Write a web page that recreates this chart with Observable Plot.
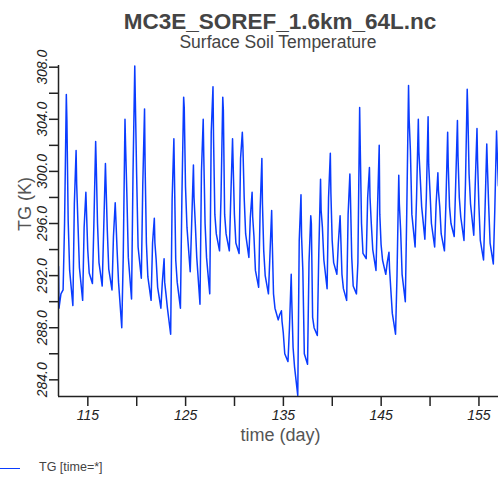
<!DOCTYPE html>
<html>
<head>
<meta charset="utf-8">
<script src="https://cdn.jsdelivr.net/npm/d3@7"></script>
<script src="https://cdn.jsdelivr.net/npm/@observablehq/plot@0.6"></script>
<style>
  body { margin: 0; background: #fff; font-family: "Liberation Sans", Arial, Helvetica, sans-serif; }
  #wrap { width: 498px; height: 478px; position: relative; overflow: hidden; }
  #head { position: relative; height: 56px; }
  #title { position: absolute; left: 0; width: 560px; top: 10.5px; text-align: center; font-size: 22.5px; line-height: 22.5px; font-weight: bold; color: #444; }
  #subtitle { position: absolute; left: 0; width: 556px; top: 33.5px; text-align: center; font-size: 17.5px; line-height: 17.5px; color: #444; }
  #legend { position: relative; height: 22px; }
  #legend .swatch { position: absolute; left: 0; top: 11.5px; width: 20px; height: 0; border-top: 1.5px solid #0a3cff; }
  #legend .lab { position: absolute; left: 39px; top: 5px; font-size: 12.5px; line-height: 13px; color: #444; }
  #chart svg g[aria-label$="tick label"] text { font-style: italic !important; font-family: "Liberation Sans", Arial, sans-serif; }
</style>
</head>
<body>
<div id="wrap">
  <div id="head">
    <div id="title">MC3E_SOREF_1.6km_64L.nc</div>
    <div id="subtitle">Surface Soil Temperature</div>
  </div>
  <div id="chart"></div>
  <div id="legend"><div class="swatch"></div><div class="lab">TG [time=*]</div></div>
</div>
<script>
// ---- data (daily cycles of surface soil temperature, K) ----
const days = [112,113,114,115,116,117,118,119,120,121,122,123,124,125,126,127,128,129,130,131,132,133,134,135,136,137,138,139,140,141,142,143,144,145,146,147,148,149,150,151,152,153,154,155,156];
// time of day (fraction) of each sample within a daily cycle
const phase = [0.47, 0.62, 0.80, 0.86, 0.99, 1.14];
// opening samples before the first cycle
const startTime = [112.0, 112.05, 112.25];
const startTG = [292.7, 289.5, 290.6];
// morning minimum before the rise
const tgMin = [290.9,289.7,290.1,291.4,291.2,290.9,288.0,290.2,291.8,290.1,289.5,287.5,289.5,292.3,289.8,290.6,293.9,293.9,293.7,293.4,291.1,290.6,288.6,285.4,282.8,285.2,287.4,291.0,292.1,290.1,290.6,293.3,292.4,292.1,287.5,290.0,294.2,294.8,294.2,293.9,295.0,294.7,295.1,293.2,292.9];
// mid-rise value
const tgRise = [296.0,297.5,295.7,296.0,295.5,295.0,293.4,299.8,299.0,294.5,291.5,297.8,298.0,296.0,300.0,303.0,298.0,298.0,301.0,296.5,297.0,293.5,289.0,288.0,294.7,293.0,293.7,298.0,294.5,296.7,293.0,298.0,297.0,293.0,292.0,297.0,298.0,298.0,297.5,297.5,299.0,299.0,299.0,297.0,297.0];
// daily peak
const tgPeak = [305.9,301.6,298.4,302.3,300.6,297.6,304.0,308.1,304.8,296.4,293.3,302.5,305.7,300.5,304.0,306.5,305.7,302.5,303.0,298.4,301.0,297.0,289.3,292.1,298.2,296.6,299.4,301.4,296.6,299.8,304.9,300.3,302.0,293.8,299.7,306.6,304.0,304.2,299.9,303.0,303.9,306.3,303.3,302.1,303.1];
// just after the peak
const tgAfter = [303.9,299.0,297.0,300.5,299.0,296.5,302.0,305.4,300.3,294.5,291.5,299.6,304.9,298.0,301.1,302.4,304.7,300.6,301.9,296.5,297.5,294.7,288.5,290.0,295.0,296.0,297.0,298.3,295.2,298.0,301.9,298.0,296.7,292.5,297.5,304.0,301.5,300.5,298.5,300.5,301.1,304.7,300.8,300.5,301.6];
// afternoon fall
const tgFall = [296.2,296.0,294.0,296.0,295.5,294.0,298.3,299.8,294.5,293.2,290.6,293.2,298.8,296.0,296.0,296.7,296.7,296.7,298.0,295.0,293.9,290.6,287.6,286.5,292.4,288.8,295.7,294.7,292.1,293.4,296.0,296.0,294.4,290.9,295.5,301.6,299.6,298.5,297.3,297.3,298.0,299.8,297.5,297.5,298.9];
// evening value (last cycle ends at the fall sample)
const tgEve = [292.4,292.6,292.2,293.0,292.5,291.5,293.4,294.2,291.9,291.1,289.5,291.5,295.7,293.4,293.4,295.2,295.2,294.5,295.2,292.4,292.0,289.5,286.0,285.0,286.0,288.0,293.2,293.0,291.0,291.2,293.7,294.0,293.2,289.1,292.1,296.7,297.3,296.0,295.2,296.0,296.5,297.5,294.7,294.5,null];

const xDomain = [112, 157];
const yDomain = [282.72, 308.13];
const xTicks = [115,120,125,130,135,140,145,150,155];
const xLabeled = [115,125,135,145,155];
const yTicks = [284,286,288,290,292,294,296,298,300,302,304,306,308];
const yLabeled = [284,288,292,296,300,304,308];

// ---- assemble the series table ----
const series = [];
startTime.forEach((t, i) => series.push({time: t, tg: startTG[i]}));
days.forEach((d, i) => {
  const vals = [tgMin[i], tgRise[i], tgPeak[i], tgAfter[i], tgFall[i], tgEve[i]];
  vals.forEach((v, j) => { if (v != null) series.push({time: d + phase[j], tg: v}); });
});

const axisColor = "#222";
const chart = Plot.plot({
  width: 498,
  height: 400,
  marginTop: 9,
  marginLeft: 58,
  marginRight: 0,
  marginBottom: 60,
  style: {fontFamily: '"Liberation Sans", Arial, Helvetica, sans-serif', background: "#fff", overflow: "visible"},
  x: {domain: xDomain},
  y: {domain: yDomain},
  marks: [
    Plot.line(series, {x: "time", y: "tg", stroke: "#0a3cff", strokeWidth: 1.5, clip: true}),
    Plot.ruleX([xDomain[0]], {stroke: axisColor, strokeWidth: 1.5}),
    Plot.ruleY([yDomain[0]], {stroke: axisColor, strokeWidth: 1.5}),
    Plot.axisX({ticks: xTicks, tickSize: 10, tickPadding: 4, stroke: axisColor, strokeWidth: 1.5,
      tickFormat: d => xLabeled.includes(d) ? String(d) : "", fontSize: 14, fontStyle: "italic", fill: axisColor, label: null}),
    Plot.axisY({ticks: yTicks, tickSize: 9, tickPadding: 2.5, tickRotate: -90, stroke: axisColor, strokeWidth: 1.5,
      tickFormat: d => yLabeled.includes(d) ? d.toFixed(1) : "", fontSize: 14, fontStyle: "italic", fill: axisColor, label: null}),
    Plot.text(["time (day)"], {frameAnchor: "bottom", lineAnchor: "bottom", dy: 44, dx: 2, fontSize: 18, fill: "#555"}),
    Plot.text(["TG (K)"], {frameAnchor: "left", lineAnchor: "bottom", rotate: -90, dx: -28, fontSize: 18, fill: "#555"})
  ]
});
chart.querySelectorAll('g[aria-label$="tick label"]').forEach(g => {
  g.setAttribute("font-style", "italic");
  g.querySelectorAll("text").forEach(t => t.setAttribute("font-style", "italic"));
});
document.getElementById("chart").appendChild(chart);
</script>
</body>
</html>
